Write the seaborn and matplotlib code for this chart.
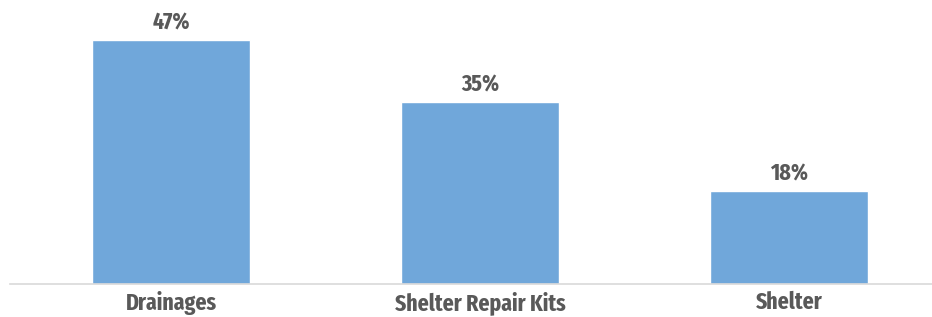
import matplotlib
matplotlib.use("Agg")
import matplotlib.pyplot as plt
import seaborn as sns
import pandas as pd

categories = ["Drainages", "Shelter Repair Kits", "Shelter"]
values = [47, 35, 18]
labels = ["47%", "35%", "18%"]

sns.set_theme(style="white")
plt.rcParams["font.family"] = ["Fira Sans Extra Condensed", "DejaVu Sans"]

df = pd.DataFrame({"cat": categories, "val": values})

fig = plt.figure(figsize=(9.32, 3.17), dpi=100)
ax = fig.add_axes([10/932, 33/317, 922/932, (284-24.5)/317])
sns.barplot(data=df, x="cat", y="val", color="#70A7DA", width=0.51, saturation=1, ax=ax)
ax.set_xlim(-0.521, 2.463)
ax.set_ylim(0, 50)
for i, (v, t) in enumerate(zip(values, labels)):
    ax.annotate(t, (i, v), xytext=(0, 7.5), textcoords="offset points",
                ha="center", va="baseline", fontsize=17, fontweight="bold", color="#595959")
ax.set_xlabel("")
ax.set_ylabel("")
ax.set_yticks([])
ax.tick_params(axis="x", length=0, pad=5, labelsize=17, labelcolor="#595959")
for lab in ax.get_xticklabels():
    lab.set_fontweight("bold")
for s in ["top", "right", "left"]:
    ax.spines[s].set_visible(False)
ax.spines["bottom"].set_color("#D9D9D9")
ax.spines["bottom"].set_linewidth(1.2)
fig.savefig("out.png", dpi=100)
